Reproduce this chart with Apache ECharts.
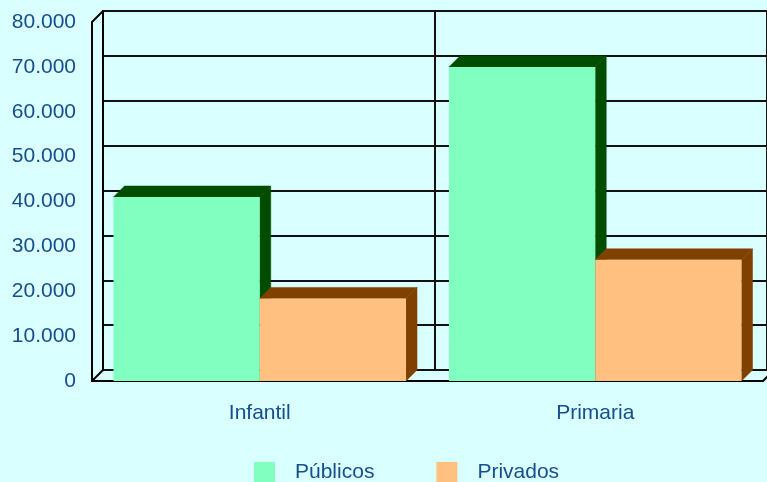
<!DOCTYPE html>
<html>
<head>
<meta charset="utf-8">
<script src="https://cdn.jsdelivr.net/npm/echarts@6/dist/echarts.min.js"></script>
<style>
html,body{margin:0;padding:0;background:#D9FFFF;}
#c{width:767px;height:482px;}
</style>
</head>
<body>
<div id="c"></div>
<script>
const categories = ['Infantil', 'Primaria'];
const seriesNames = ['Públicos', 'Privados'];
const publicos = [41000, 70000];
const privados = [18400, 27000];
const yMin = 0, yMax = 80000, yStep = 10000;

const FONT = '"Liberation Sans", Arial, sans-serif';
const TXT = '#164E8C';
const DEPTH = 11;

function fmt(v) {
  return String(v).replace(/\B(?=(\d{3})+(?!\d))/g, '.');
}

function barRenderer(side, front, dark) {
  return function (params, api) {
    const idx = api.value(0), v = api.value(1);
    const base = api.coord([idx, 0]);
    const top = api.coord([idx, v]);
    const band = api.size([1, 0])[0];
    const bw = band * 0.436;
    const x0 = side < 0 ? base[0] - bw : base[0];
    const x1 = x0 + bw;
    const yb = base[1], yt = top[1];
    const d = DEPTH;
    return {
      type: 'group',
      children: [
        { type: 'polygon', shape: { points: [[x0, yt], [x0 + d, yt - d], [x1 + d, yt - d], [x1, yt]] },
          style: { fill: dark, stroke: dark, lineWidth: 0.5 } },
        { type: 'polygon', shape: { points: [[x1, yt], [x1 + d, yt - d], [x1 + d, yb - d], [x1, yb]] },
          style: { fill: dark, stroke: dark, lineWidth: 0.5 } },
        { type: 'rect', shape: { x: x0, y: yt, width: bw, height: yb - yt },
          style: { fill: front } }
      ]
    };
  };
}

function frameRenderer(params, api) {
  const band = api.size([1, 0])[0];
  const c0 = api.coord([0, yMin]);
  const cTop = api.coord([0, yMax]);
  const cLast = api.coord([categories.length - 1, yMin]);
  const xl = c0[0] - band / 2, xr = cLast[0] + band / 2;
  const yb = c0[1], yt = cTop[1];
  const d = DEPTH;
  const st = { stroke: '#000', lineWidth: 2 };
  return {
    type: 'group',
    children: [
      { type: 'line', shape: { x1: xl, y1: yt, x2: xl + d, y2: yt - d }, style: st },
      { type: 'line', shape: { x1: xl, y1: yb, x2: xl + d, y2: yb - d }, style: st },
      { type: 'line', shape: { x1: xr, y1: yb, x2: xr + d, y2: yb - d }, style: st }
    ]
  };
}

const chart = echarts.init(document.getElementById('c'));
chart.setOption({
  backgroundColor: '#D9FFFF',
  animation: false,
  textStyle: { fontFamily: FONT },
  legend: {
    data: seriesNames,
    left: 254,
    top: 462,
    padding: 0,
    icon: 'rect',
    itemWidth: 21,
    itemHeight: 21,
    itemGap: 62,
    textStyle: { color: TXT, fontSize: 21, fontFamily: FONT, padding: [0, 0, 0, 15] }
  },
  grid: [
    { left: 103, top: 11, width: 671, height: 359, containLabel: false },
    { left: 92, top: 22, width: 671, height: 359, containLabel: false }
  ],
  xAxis: [
    { gridIndex: 0, type: 'category', data: categories, boundaryGap: true,
      axisLine: { show: false }, axisTick: { show: false }, axisLabel: { show: false },
      splitLine: { show: true, interval: 0, lineStyle: { color: '#111', width: 2 } } },
    { gridIndex: 1, type: 'category', data: categories, boundaryGap: true,
      axisLine: { show: true, lineStyle: { color: '#000', width: 2 } },
      axisTick: { show: false },
      axisLabel: { color: TXT, fontSize: 21, fontFamily: FONT, margin: 22 },
      splitLine: { show: false } }
  ],
  yAxis: [
    { gridIndex: 0, type: 'value', min: yMin, max: yMax, interval: yStep,
      axisLine: { show: true, lineStyle: { color: '#000', width: 2 } },
      axisTick: { show: false }, axisLabel: { show: false },
      splitLine: { show: true, lineStyle: { color: '#111', width: 2 } } },
    { gridIndex: 1, type: 'value', min: yMin, max: yMax, interval: yStep,
      axisLine: { show: true, lineStyle: { color: '#000', width: 2 } },
      axisTick: { show: false },
      axisLabel: { color: TXT, fontSize: 21, fontFamily: FONT, margin: 16, formatter: fmt },
      splitLine: { show: false } }
  ],
  series: [
    { name: seriesNames[0], type: 'custom', xAxisIndex: 1, yAxisIndex: 1,
      itemStyle: { color: '#80FFC0' },
      encode: { x: 0, y: 1 },
      data: categories.map((c, i) => [i, publicos[i]]),
      renderItem: barRenderer(-1, '#80FFC0', '#004D00'), z: 3 },
    { name: seriesNames[1], type: 'custom', xAxisIndex: 1, yAxisIndex: 1,
      itemStyle: { color: '#FFC080' },
      encode: { x: 0, y: 1 },
      data: categories.map((c, i) => [i, privados[i]]),
      renderItem: barRenderer(1, '#FFC080', '#804000'), z: 4 },
    { name: 'frame', type: 'custom', xAxisIndex: 1, yAxisIndex: 1, silent: true,
      data: [[0, 0]], encode: { x: 0, y: 1 },
      renderItem: frameRenderer, z: 5 }
  ]
});
</script>
</body>
</html>
